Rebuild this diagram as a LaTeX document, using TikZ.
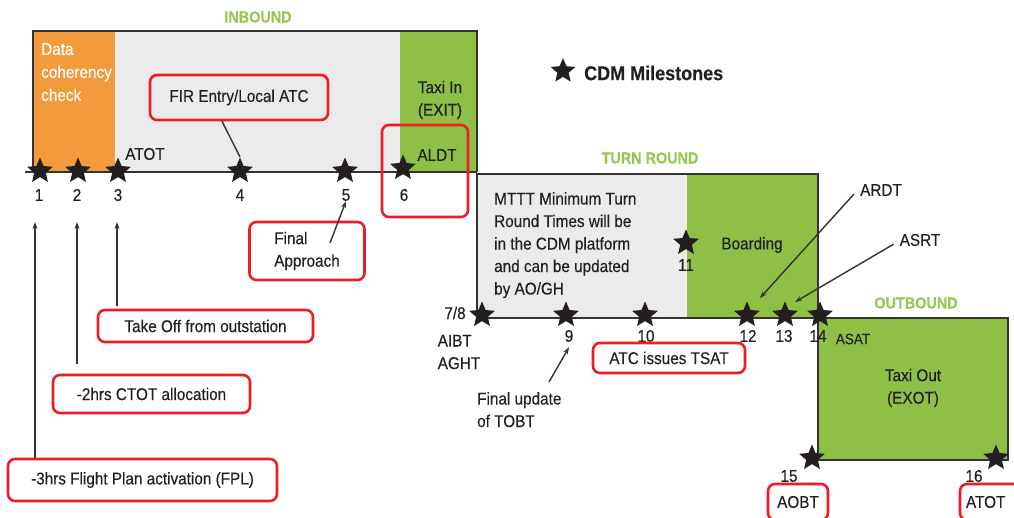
\documentclass[tikz,border=0pt]{standalone}
\usepackage{fontspec}
\setmainfont[FakeStretch=0.9,FakeBold=0.3]{Liberation Sans}
\usetikzlibrary{shapes.geometric,arrows.meta}

\definecolor{orangeband}{HTML}{F29A3C}
\definecolor{greenband}{HTML}{8DC045}
\definecolor{greyband}{HTML}{EBEBEB}
\definecolor{ink}{HTML}{231F20}
\definecolor{frameline}{HTML}{333333}
\definecolor{titlegreen}{HTML}{97C652}
\definecolor{callred}{HTML}{EE1C24}

\tikzset{
  milestone/.style={star, star points=5, star point ratio=2.2, fill=ink, draw=none,
    minimum size=27pt, inner sep=0pt},
  num/.style={font=\fontsize{17}{17}\selectfont, text=ink, inner sep=0pt},
  txt/.style={font=\fontsize{17}{22.5}\selectfont, text=ink, inner sep=0pt},
  whitetxt/.style={font=\fontsize{17}{23}\selectfont, text=white, inner sep=0pt, align=left},
  phase/.style={font=\bfseries\fontsize{16}{16}\selectfont, text=titlegreen, inner sep=0pt},
  callout/.style={draw=callred, line width=2.6pt, rounded corners=7pt,
    font=\fontsize{17}{22.5}\selectfont, text=ink, inner sep=0pt},
  frame/.style={draw=frameline, line width=1.8pt},
  pointer/.style={draw=frameline, line width=1.4pt, -{Stealth[length=7pt,width=5pt]}},
  plain/.style={draw=frameline, line width=1.4pt}
}

\begin{document}
\begin{tikzpicture}[x=1pt,y=-1pt]
\useasboundingbox (0,0) rectangle (1014,518);

% ---------- phase bands ----------
\fill[orangeband] (33,31) rectangle (115,172);
\fill[greyband]   (115,31) rectangle (400,172);
\fill[greenband]  (400,31) rectangle (477,172);
\draw[frame] (33,172) -- (33,31) -- (477,31) -- (477,172);
\draw[frame] (25,172) -- (477,172);

\fill[greyband]  (477,174) rectangle (687,318);
\fill[greenband] (687,174) rectangle (818,318);
\draw[frame] (477,174) rectangle (818,318);

\fill[greenband] (818,318) rectangle (1008,460);
\draw[frame] (818,318) rectangle (1008,460);

% ---------- phase titles ----------
\node[phase] (tin)  at (258,17)  {INBOUND};
\node[phase] (tturn) at (650,158) {TURN ROUND};
\node[phase] (tout) at (916,303) {OUTBOUND};

% ---------- legend ----------
\node[milestone, minimum size=26pt] (legstar) at (563,71) {};
\node[font=\bfseries\fontsize{20}{20}\selectfont, text=ink, anchor=west, inner sep=0pt]
  (legtxt) at (584,73) {CDM Milestones};

% ---------- texts inside bands ----------
\node[whitetxt, anchor=north west] (dcc) at (41,43) {Data\\coherency\\check};
\node[txt, align=center] (taxiin) at (440,100) {Taxi In\\(EXIT)};
\node[txt] (aldt) at (437,155) {ALDT};
\node[txt] (atot1) at (145,154) {ATOT};

\node[txt, align=left, anchor=north west] (mttt) at (494,192)
  {MTTT Minimum Turn\\Round Times will be\\in the CDM platform\\and can be updated\\by AO/GH};
\node[txt] (boarding) at (752,245) {Boarding};
\node[txt, align=center] (taxiout) at (913,388) {Taxi Out\\(EXOT)};
\node[txt, font=\fontsize{15}{15}\selectfont] (asat) at (853,339) {ASAT};

% ---------- milestones ----------
\node[milestone] (s1)  at (40,171)  {};
\node[milestone] (s2)  at (78,171)  {};
\node[milestone] (s3)  at (118,171) {};
\node[milestone] (s4)  at (240,171) {};
\node[milestone] (s5)  at (345,171) {};
\node[milestone] (s6)  at (403,168) {};
\node[milestone] (s78) at (482,315) {};
\node[milestone] (s9)  at (566,315) {};
\node[milestone] (s10) at (645,315) {};
\node[milestone] (s11) at (686,243) {};
\node[milestone] (s12) at (747,315) {};
\node[milestone] (s13) at (785,315) {};
\node[milestone] (s14) at (820,315) {};
\node[milestone] (s15) at (812,458) {};
\node[milestone] (s16) at (996,458) {};

\node[num] (n1)  at (39,195)  {1};
\node[num] (n2)  at (77,195)  {2};
\node[num] (n3)  at (118,195) {3};
\node[num] (n4)  at (240,195) {4};
\node[num] (n5)  at (346,195) {5};
\node[num] (n6)  at (404,195) {6};
\node[num] (n78) at (455,313) {7/8};
\node[num] (n9)  at (569,336) {9};
\node[num] (n10) at (646,336) {10};
\node[num] (n11) at (686,265) {11};
\node[num] (n12) at (748,336) {12};
\node[num] (n13) at (784,336) {13};
\node[num] (n14) at (818,336) {14};
\node[num] (n15) at (789,476) {15};
\node[num] (n16) at (974,476) {16};

\node[txt, align=left] (aibt) at (459,352) {AIBT\\AGHT};
\node[txt] (ardt) at (881,190) {ARDT};
\node[txt] (asrt) at (920,240) {ASRT};
\node[txt, align=left, anchor=north west] (fut) at (477,392) {Final update\\of TOBT};

% ---------- red callouts ----------
\node[callout, minimum width=178pt, minimum height=45pt] (fir) at (239,97.5) {FIR Entry/Local ATC};
\node[callout, minimum width=86pt, minimum height=92pt] (aldtbox) at (425,171) {};
\node[callout, minimum width=115pt, minimum height=58pt, align=left] (fa) at (307,251) {Final\\Approach};
\node[callout, minimum width=215pt, minimum height=32pt] (tko) at (205.5,326) {Take Off from outstation};
\node[callout, minimum width=197pt, minimum height=38pt] (ctot) at (151.5,394) {-2hrs CTOT allocation};
\node[callout, minimum width=269pt, minimum height=42pt] (fpl) at (142.5,480) {-3hrs Flight Plan activation (FPL)};
\node[callout, minimum width=152pt, minimum height=30pt] (tsat) at (669,358) {ATC issues TSAT};
\node[callout, minimum width=60pt, minimum height=36pt] (aobt) at (798,502) {AOBT};
\node[callout, minimum width=62pt, minimum height=36pt, text width=50pt, align=left] (atot2) at (991,502) {ATOT};

% ---------- connectors ----------
\coordinate (up1) at (35,222);
\coordinate (up2) at (77,222);
\coordinate (up3) at (117,222);
\draw[pointer] (fpl.north -| up1) -- (up1);
\draw[pointer] ([yshift=10pt]ctot.north -| up2) -- (up2);
\draw[pointer] ([yshift=3pt]tko.north -| up3) -- (up3);

\draw[plain] ([xshift=-17pt]fir.south) -- (s4.north);
\coordinate (fatail) at (330,243);
\draw[pointer] (fatail) -- (n5.south);

\coordinate (futtail) at (549,382);
\draw[pointer] (futtail) -- ([yshift=-5pt]n9.south);

\coordinate (ardthead) at (760,298);
\coordinate (asrthead) at (795,302);
\draw[pointer] ([xshift=-6pt,yshift=2pt]ardt.south west) -- (ardthead);
\draw[pointer] ([xshift=-6pt,yshift=2pt]asrt.south west) -- (asrthead);
\end{tikzpicture}
\end{document}
